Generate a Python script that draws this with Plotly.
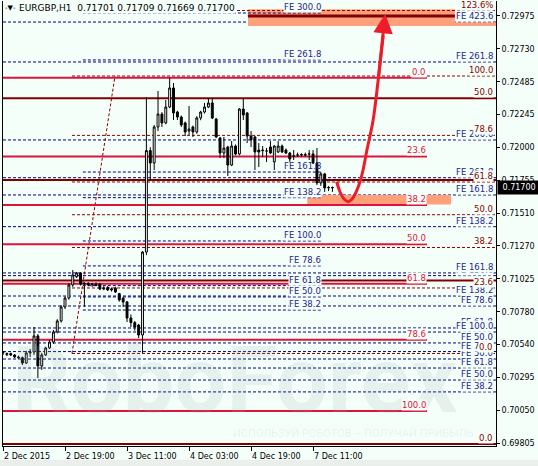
import plotly.graph_objects as go

SYMBOL = "EURGBP"
PERIOD = "H1"

X_TICK_BARS = [0, 16, 32, 48, 64, 80]
X_TICK_TEXT = ["2 Dec 2015", "2 Dec 19:00", "3 Dec 11:00", "4 Dec 03:00", "4 Dec 19:00", "7 Dec 11:00"]
Y_TICKS = [0.72975, 0.72730, 0.72485, 0.72245, 0.72000, 0.71755, 0.71510,
           0.71270, 0.71025, 0.70780, 0.70540, 0.70295, 0.70050, 0.69805]

OPEN = [
    0.70475, 0.70462, 0.70470, 0.70460, 0.70445, 0.70440, 0.70400, 0.70475, 0.70482, 0.70601,
    0.70378, 0.70460, 0.70512, 0.70556, 0.70630, 0.70712, 0.70816, 0.70882, 0.70979, 0.71040,
    0.71068, 0.70985, 0.70990, 0.70980, 0.70985, 0.70985, 0.70949, 0.70960, 0.70942, 0.70955,
    0.70915, 0.70880, 0.70853, 0.70734, 0.70700, 0.70682, 0.70608, 0.71223, 0.71975, 0.71883,
    0.72150, 0.72246, 0.72180, 0.72298, 0.72439, 0.72261, 0.72224, 0.72180, 0.72120, 0.72150,
    0.72113, 0.72217, 0.72261, 0.72298, 0.72328, 0.72209, 0.72068, 0.71957, 0.72002, 0.71868,
    0.72009, 0.71950, 0.72283, 0.72254, 0.72083, 0.72076, 0.71979, 0.71979, 0.71972, 0.72002,
    0.71891, 0.71965, 0.72009, 0.71979, 0.71957, 0.71935, 0.71942, 0.71942, 0.71945, 0.71950,
    0.71950, 0.71883, 0.71735, 0.71802, 0.71698, 0.71701]
HIGH = [
    0.70490, 0.70478, 0.70478, 0.70467, 0.70455, 0.70448, 0.70490, 0.70504, 0.70667, 0.70615,
    0.70475, 0.70520, 0.70570, 0.70645, 0.70725, 0.70830, 0.70895, 0.70990, 0.71090, 0.71075,
    0.71075, 0.71000, 0.71000, 0.70995, 0.70998, 0.70995, 0.70970, 0.70970, 0.70960, 0.70965,
    0.70920, 0.70890, 0.70860, 0.70760, 0.70712, 0.70690, 0.71230, 0.72372, 0.72000, 0.72165,
    0.72417, 0.72260, 0.72350, 0.72513, 0.72476, 0.72270, 0.72235, 0.72190, 0.72306, 0.72160,
    0.72230, 0.72270, 0.72328, 0.72365, 0.72365, 0.72217, 0.72076, 0.72076, 0.72010, 0.72046,
    0.72020, 0.72290, 0.72365, 0.72260, 0.72120, 0.72085, 0.72031, 0.72009, 0.71994, 0.72046,
    0.72015, 0.72046, 0.72020, 0.71990, 0.71965, 0.71979, 0.71960, 0.71955, 0.71960, 0.71979,
    0.71979, 0.71994, 0.71815, 0.71810, 0.71713, 0.71709]
LOW = [
    0.70460, 0.70452, 0.70452, 0.70438, 0.70430, 0.70385, 0.70393, 0.70445, 0.70460, 0.70289,
    0.70349, 0.70452, 0.70504, 0.70541, 0.70620, 0.70700, 0.70800, 0.70870, 0.70965, 0.71030,
    0.70975, 0.70816, 0.70970, 0.70965, 0.70970, 0.70940, 0.70940, 0.70935, 0.70930, 0.70920,
    0.70855, 0.70816, 0.70704, 0.70667, 0.70640, 0.70585, 0.70475, 0.71200, 0.71757, 0.71831,
    0.72120, 0.72150, 0.72170, 0.72290, 0.72202, 0.72202, 0.72150, 0.72083, 0.72091, 0.72076,
    0.72100, 0.72200, 0.72250, 0.72290, 0.72209, 0.72068, 0.71920, 0.71920, 0.71787, 0.71860,
    0.71940, 0.71940, 0.72202, 0.72031, 0.72002, 0.71831, 0.71853, 0.71928, 0.71891, 0.71950,
    0.71831, 0.71957, 0.71957, 0.71950, 0.71891, 0.71905, 0.71928, 0.71930, 0.71930, 0.71905,
    0.71875, 0.71720, 0.71713, 0.71668, 0.71675, 0.71669]
CLOSE = [
    0.70482, 0.70470, 0.70460, 0.70445, 0.70440, 0.70400, 0.70475, 0.70482, 0.70601, 0.70378,
    0.70460, 0.70512, 0.70556, 0.70630, 0.70712, 0.70816, 0.70882, 0.70979, 0.71053, 0.71068,
    0.70985, 0.70990, 0.70980, 0.70985, 0.70975, 0.70949, 0.70955, 0.70942, 0.70949, 0.70927,
    0.70868, 0.70853, 0.70734, 0.70700, 0.70667, 0.70608, 0.71223, 0.71975, 0.71883, 0.72150,
    0.72246, 0.72180, 0.72298, 0.72439, 0.72254, 0.72224, 0.72165, 0.72113, 0.72135, 0.72113,
    0.72217, 0.72261, 0.72298, 0.72328, 0.72217, 0.72076, 0.71957, 0.71994, 0.71868, 0.72009,
    0.71950, 0.72283, 0.72239, 0.72083, 0.72054, 0.71965, 0.71965, 0.71975, 0.71972, 0.71957,
    0.72009, 0.72009, 0.71965, 0.71957, 0.71913, 0.71935, 0.71942, 0.71945, 0.71942, 0.71950,
    0.71883, 0.71735, 0.71802, 0.71698, 0.71701, 0.71700]
BARS = list(range(len(OPEN)))

# Fibonacci retracement (dashed, dark red)
FIB_LOW, FIB_HIGH = 0.70471, 0.72528
FIB_T0, FIB_T1 = 17.8, 28.9
FIB_LEVELS = [0, 23.6, 38.2, 50, 61.8, 78.6, 100, 123.6]
FIB_TEXT = ["0.0", "23.6", "38.2", "50.0", "61.8", "78.6", "100.0", "123.6%"]

# Second retracement (solid crimson)
RET_HIGH, RET_LOW = 0.72515, 0.70045
RET_LEVELS = [0, 23.6, 38.2, 50, 61.8, 78.6, 100]
RET_TEXT = ["0.0", "23.6", "38.2", "50.0", "61.8", "78.6", "100.0"]
RET_END = 109.4

# Thick maroon horizontals
HLINE_PRICE = [0.72363, 0.71757, 0.71012, 0.69800]
HLINE_TEXT = ["50.0", "", "", "0.0"]
TOP_LINE_PRICE = 0.72973
TOP_LINE_T = (63.2, 116.6)

# Fibonacci expansion levels, full width
FE_LONG_PRICE = [0.71048, 0.70660, 0.70430, 0.72928, 0.72632, 0.72054, 0.71774, 0.71646, 0.71411,
                 0.71068, 0.70897, 0.70823, 0.70630, 0.70549, 0.70485, 0.70363, 0.70274, 0.70186]
FE_LONG_TEXT = ["FE 150.0", "FE 61.8", "FE 50.0", "FE 423.6", "FE 261.8", "FE 200.0", "FE 261.8",
                "FE 161.8", "FE 138.2", "FE 161.8", "FE 138.2", "FE 78.6", "FE 100.0", "FE 50.0",
                "FE 78.6", "FE 61.8", "FE 50.0", "FE 38.2"]
# Fibonacci expansion levels, short
FE_SHORT_PRICE = [0.72995, 0.72647, 0.71816, 0.71626, 0.71305, 0.71120, 0.70974, 0.70890, 0.70793]
FE_SHORT_TEXT = ["FE 300.0", "FE 261.8", "FE 161.8", "FE 138.2", "FE 100.0", "FE 78.6", "FE 61.8",
                 "FE 50.0", "FE 38.2"]
FE_SHORT_T = (20.6, 82.3)

# Target zones
ZONES = [  # (t0, t1, p0, p1)
    (63.2, 116.6, 0.72898, 0.73022),
    (116.6, 127.2, 0.72898, 0.72924),
    (78.5, 115.6, 0.71575, 0.71646),
]

# Forecast arrow
ARROW_T = [86.1, 86.97, 88.0, 89.1, 90.06, 91.1, 92.1, 92.9, 93.9, 95.5, 96.8, 98.1]
ARROW_P = [0.71744, 0.71668, 0.71616, 0.71596, 0.71616, 0.71668, 0.71742, 0.71831, 0.71979,
           0.72202, 0.72498, 0.72827]
ARROW_TIP = (98.6, 0.72988)

X_RANGE = [0, 127.2]
Y_RANGE = [0.69785, 0.73084]

BG = "#f5fffa"
NAVY = "#000080"
NAVY_TXT = "#24248c"
DARKRED = "#8b0000"
MAROON = "#800000"
CRIMSON = "#dc143c"
ARROW_RED = "#ee1c2a"
SALMON = "#ffa07a"
FONT = "DejaVu Sans"
DASH = "3px,2px"

fig = go.Figure()
fig.add_trace(go.Candlestick(
    x=BARS, open=OPEN, high=HIGH, low=LOW, close=CLOSE,
    increasing=dict(line=dict(color="black", width=1), fillcolor="white"),
    decreasing=dict(line=dict(color="black", width=1), fillcolor="black"),
    whiskerwidth=0, showlegend=False, hoverinfo="skip"))
fig.add_trace(go.Scatter(
    x=ARROW_T, y=ARROW_P, mode="lines",
    line=dict(color=ARROW_RED, width=3, shape="spline", smoothing=1.0),
    showlegend=False, hoverinfo="skip"))

shapes = []
for t0, t1, p0, p1 in ZONES:
    shapes.append(dict(type="rect", xref="x", yref="y", x0=t0, x1=t1, y0=p0, y1=p1,
                       fillcolor=SALMON, line=dict(width=0), layer="below"))
for p in FE_LONG_PRICE:
    shapes.append(dict(type="line", xref="paper", yref="y", x0=0, x1=1, y0=p, y1=p,
                       line=dict(color=NAVY, width=1, dash=DASH), layer="below"))
for p in FE_SHORT_PRICE:
    shapes.append(dict(type="line", xref="x", yref="y", x0=FE_SHORT_T[0], x1=FE_SHORT_T[1], y0=p, y1=p,
                       line=dict(color=NAVY, width=1, dash=DASH), layer="below"))
fib_prices = [FIB_LOW + lv / 100.0 * (FIB_HIGH - FIB_LOW) for lv in FIB_LEVELS]
for p in fib_prices:
    shapes.append(dict(type="line", xref="x", yref="y", x0=FIB_T0, x1=X_RANGE[1], y0=p, y1=p,
                       line=dict(color=DARKRED, width=1, dash=DASH), layer="below"))
shapes.append(dict(type="line", xref="x", yref="y", x0=FIB_T0, x1=FIB_T1, y0=FIB_LOW, y1=FIB_HIGH,
                   line=dict(color=DARKRED, width=1, dash=DASH), layer="below"))
ret_prices = [RET_HIGH - lv / 100.0 * (RET_HIGH - RET_LOW) for lv in RET_LEVELS]
for p in ret_prices:
    shapes.append(dict(type="line", xref="x", yref="y", x0=X_RANGE[0], x1=RET_END, y0=p, y1=p,
                       line=dict(color=CRIMSON, width=2), layer="below"))
for p in HLINE_PRICE:
    shapes.append(dict(type="line", xref="paper", yref="y", x0=0, x1=1, y0=p, y1=p,
                       line=dict(color=MAROON, width=2), layer="below"))
shapes.append(dict(type="line", xref="x", yref="y", x0=TOP_LINE_T[0], x1=TOP_LINE_T[1],
                   y0=TOP_LINE_PRICE, y1=TOP_LINE_PRICE, line=dict(color=MAROON, width=3), layer="below"))
# bottom grey strip of the window
shapes.append(dict(type="rect", xref="paper", yref="paper", x0=-0.01, x1=1.09, y0=-0.05, y1=-0.031,
                   fillcolor="#ebefec", line=dict(width=0), layer="below"))

ann = []
ann.append(dict(x=0.47, y=0.148, xref="paper", yref="paper", xanchor="center", yanchor="middle",
                text="<b>RoboForex</b>", showarrow=False,
                font=dict(family="Roboto", size=92, color="rgba(150,172,165,0.17)")))
ann.append(dict(x=0.96, y=0.029, xref="paper", yref="paper", xanchor="right", yanchor="middle",
                text="ИСПОЛЬЗУЙ РОБОТОВ – ПОЛУЧАЙ ПРИБЫЛЬ", showarrow=False,
                font=dict(family="Roboto", size=11, color="rgba(150,172,165,0.16)")))


def label(x, xref, y, text, color, xshift=0, bg=BG):
    return dict(x=x, xref=xref, y=y, yref="y", text=text, showarrow=False, xanchor="right",
                yanchor="bottom", xshift=xshift, yshift=0, borderpad=0, bgcolor=bg,
                font=dict(family=FONT, size=8.5, color=color))


for p, t in zip(FE_LONG_PRICE, FE_LONG_TEXT):
    ann.append(label(1, "paper", p, t, NAVY_TXT, xshift=-2))
for p, t in zip(fib_prices, FIB_TEXT):
    ann.append(label(1, "paper", p, t, DARKRED, xshift=-2))
for p, t in zip(HLINE_PRICE, HLINE_TEXT):
    if t:
        ann.append(label(1, "paper", p, t, MAROON, xshift=-2))
for p, t in zip(ret_prices, RET_TEXT):
    ann.append(label(RET_END, "x", p, t, CRIMSON))
for p, t in zip(FE_SHORT_PRICE, FE_SHORT_TEXT):
    bg = "rgba(0,0,0,0)" if t == "FE 161.8" else BG
    ann.append(label(FE_SHORT_T[1], "x", p, t, NAVY_TXT, bg=bg))

for tb, tt in zip(X_TICK_BARS, X_TICK_TEXT):
    ann.append(dict(x=tb, xref="x", y=-0.023, yref="paper", text=tt, showarrow=False,
                    xanchor="left", yanchor="middle", xshift=-1,
                    font=dict(family=FONT, size=8, color="black")))

title = (f"{SYMBOL},{PERIOD}\u00a0\u00a0{OPEN[-1]:.5f} {HIGH[-1]:.5f} "
         f"{LOW[-1]:.5f} {CLOSE[-1]:.5f}")
ann.append(dict(x=0.03, xref="paper", y=0.984, yref="paper", text=title, showarrow=False,
                xanchor="left", yanchor="middle", bgcolor=BG, borderpad=0,
                font=dict(family=FONT, size=9, color="black")))
ann.append(dict(x=0.0, xref="paper", y=0.984, yref="paper", text="-▼-", showarrow=False,
                xanchor="left", yanchor="middle", font=dict(family=FONT, size=7, color="black")))
ann.append(dict(x=1, xref="paper", y=CLOSE[-1], yref="y", text=f"\u00a0{CLOSE[-1]:.5f}\u00a0",
                showarrow=False, xanchor="left", yanchor="middle", xshift=1, bgcolor="black",
                borderpad=2, font=dict(family=FONT, size=8, color="white")))
ann.append(dict(x=ARROW_TIP[0], y=ARROW_TIP[1], xref="x", yref="y", ax=ARROW_T[-2], ay=ARROW_P[-2],
                axref="x", ayref="y", text="", showarrow=True, arrowhead=2, arrowsize=1.3,
                arrowwidth=3, arrowcolor=ARROW_RED, standoff=0))

fig.update_layout(
    width=538, height=466,
    margin=dict(l=3, r=42, t=1, b=20),
    paper_bgcolor=BG, plot_bgcolor=BG,
    shapes=shapes, annotations=ann, showlegend=False,
    xaxis=dict(range=X_RANGE, showgrid=False, zeroline=False, showline=True, linecolor="black",
               linewidth=1, ticks="outside", ticklen=4, tickcolor="black", tickvals=X_TICK_BARS,
               showticklabels=False, rangeslider=dict(visible=False), fixedrange=True),
    yaxis=dict(range=Y_RANGE, side="right", showgrid=False, zeroline=False, showline=True,
               mirror=True, linecolor="black", linewidth=1, ticks="outside", ticklen=3,
               tickcolor="black", tickvals=Y_TICKS, ticktext=[f"{v:.5f}" for v in Y_TICKS],
               tickfont=dict(family=FONT, size=8, color="black"), fixedrange=True),
)

fig.write_html("out.html", config={"displayModeBar": False},
               post_script="document.body.style.margin='0';document.body.style.overflow='hidden';")
